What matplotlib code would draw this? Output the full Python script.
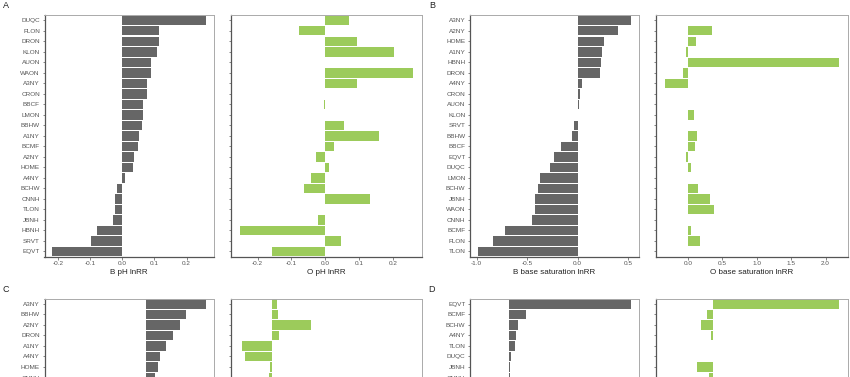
import numpy as np
import matplotlib
matplotlib.use("Agg")
import matplotlib.pyplot as plt

plt.rcParams['font.family'] = ['Liberation Sans', 'DejaVu Sans']
plt.rcParams['axes.unicode_minus'] = False

GRAY = '#666666'
GREEN = '#9ccb5b'
N_ROWS = 23

# panel A: pH
a_sites = ['DUQC', 'FLON', 'DRON', 'KLON', 'AUON', 'WAON', 'A3NY', 'CRON', 'BBCF', 'LMON',
           'BBHW', 'A1NY', 'BCMF', 'A2NY', 'HOME', 'A4NY', 'BCHW', 'CNNH', 'TLON', 'JBNH',
           'HBNH', 'SRVT', 'EQVT']
a_b = [0.260, 0.113, 0.113, 0.107, 0.091, 0.088, 0.076, 0.076, 0.066, 0.064,
       0.061, 0.051, 0.050, 0.038, 0.034, 0.010, -0.015, -0.022, -0.022, -0.028,
       -0.080, -0.096, -0.218]
a_o = [0.070, -0.077, 0.094, 0.204, None, 0.261, 0.094, None, -0.002, None,
       0.055, 0.159, 0.025, -0.027, 0.011, -0.043, -0.063, 0.134, None, -0.020,
       -0.253, 0.047, -0.156]

# panel B: base saturation
b_sites = ['A3NY', 'A2NY', 'HOME', 'A1NY', 'HBNH', 'DRON', 'A4NY', 'CRON', 'AUON', 'KLON',
           'SRVT', 'BBHW', 'BBCF', 'EQVT', 'DUQC', 'LMON', 'BCHW', 'JBNH', 'WAON', 'CNNH',
           'BCMF', 'FLON', 'TLON']
b_b = [0.533, 0.405, 0.263, 0.243, 0.230, 0.224, 0.049, 0.020, 0.010, 0.002,
       -0.039, -0.053, -0.164, -0.237, -0.273, -0.368, -0.395, -0.418, -0.424, -0.447,
       -0.720, -0.839, -0.990]
b_o = [0.006, 0.345, 0.126, -0.029, 2.199, -0.063, -0.335, None, None, 0.092,
       0.004, 0.136, 0.107, -0.024, 0.044, None, 0.150, 0.325, 0.379, 0.008,
       0.053, 0.184, None]

# panels C and D (only the top rows are inside the picture)
c_sites = ['A3NY', 'BBHW', 'A2NY', 'DRON', 'A1NY', 'A4NY', 'HOME', 'CNNH']
c_b = [0.39, 0.26, 0.219, 0.176, 0.132, 0.091, 0.080, 0.056]
c_o = [0.025, 0.035, 0.221, 0.040, -0.173, -0.157, -0.013, -0.017]

d_sites = ['EQVT', 'BCMF', 'BCHW', 'A4NY', 'TLON', 'DUQC', 'JBNH', 'CNNH']
d_b = [0.795, 0.107, 0.055, 0.044, 0.037, 0.013, 0.0065, 0.005]
d_o = [0.717, -0.034, -0.071, -0.015, None, -0.003, -0.095, -0.026]

W, H = 850, 377
fig = plt.figure(figsize=(8.5, 3.77), dpi=100)


def box(x0, x1, ytop, ybot):
    return [x0 / W, 1 - ybot / H, (x1 - x0) / W, (ybot - ytop) / H]


def expand(vals):
    v = [x for x in vals if x is not None]
    lo, hi = min(v), max(v)
    pad = (hi - lo) * 0.05
    return lo - pad, hi + pad


def panel(rect, sites, vals, color, xlim, ticks, xlabel, show_labels):
    ax = fig.add_axes(rect)
    y = np.arange(len(sites))
    idx = [i for i, v in enumerate(vals) if v is not None]
    ax.barh(y[idx], [vals[i] for i in idx], height=0.9, color=color, edgecolor='none')
    ax.set_ylim(N_ROWS - 0.5, -0.5)
    ax.set_xlim(*xlim)
    ax.set_yticks(y)
    if show_labels:
        ax.set_yticklabels(sites)
    else:
        ax.set_yticklabels([])
        ax.tick_params(axis='y', length=0)
    if ticks is not None:
        ax.set_xticks(ticks)
        ax.set_xticklabels(['%.1f' % t for t in ticks])
    else:
        # x axis of the lower row lies below the picture
        ax.set_xticks([])
    ax.tick_params(axis='both', labelsize=4.6, colors='#555555', length=1.8, width=0.5, pad=1.5)
    for s in ['top', 'right']:
        ax.spines[s].set_color('#aaaaaa')
        ax.spines[s].set_linewidth(0.7)
    for s in ['left', 'bottom']:
        ax.spines[s].set_color('#555555')
        ax.spines[s].set_linewidth(0.9)
    if xlabel:
        ax.set_xlabel(xlabel, fontsize=5.8, color='#222222', labelpad=2)
    return ax


top_y = (15, 256.7)
bot_y = (298.7, 540.4)

panel(box(44.5, 213.5, *top_y), a_sites, a_b, GRAY, expand(a_b),
      [-0.2, -0.1, 0.0, 0.1, 0.2], 'B pH lnRR', True)
panel(box(231, 422, *top_y), a_sites, a_o, GREEN, expand(a_o),
      [-0.2, -0.1, 0.0, 0.1, 0.2], 'O pH lnRR', False)
panel(box(470, 639, *top_y), b_sites, b_b, GRAY, expand(b_b),
      [-1.0, -0.5, 0.0, 0.5], 'B base saturation lnRR', True)
panel(box(656, 848, *top_y), b_sites, b_o, GREEN, expand(b_o),
      [0.0, 0.5, 1.0, 1.5, 2.0], 'O base saturation lnRR', False)

panel(box(44.5, 213.5, *bot_y), c_sites, c_b, GRAY, (-0.66, 0.44), None, None, True)
panel(box(231, 422, *bot_y), c_sites, c_o, GREEN, (-0.238, 0.862), None, None, False)
panel(box(470, 639, *bot_y), d_sites, d_b, GRAY, (-0.255, 0.845), None, None, True)
panel(box(656, 848, *bot_y), d_sites, d_o, GREEN, (-0.329, 0.771), None, None, False)

for letter, x, y in [('A', 6, 6), ('B', 432, 6), ('C', 6, 290), ('D', 432, 290)]:
    fig.text(x / W, 1 - y / H, letter, fontsize=6.5, color='#222222', ha='center', va='center')

fig.savefig('out.png', dpi=100)
